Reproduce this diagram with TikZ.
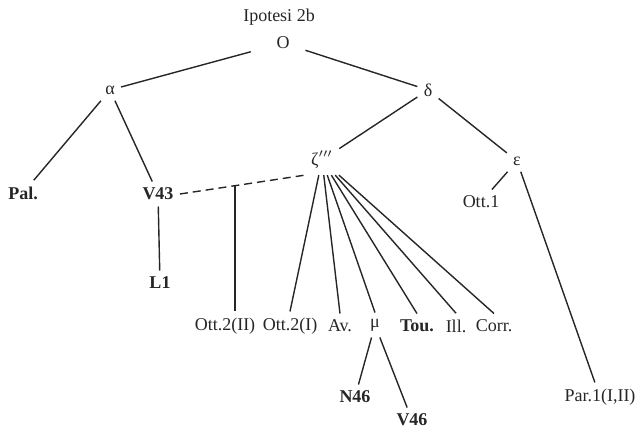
\documentclass[tikz,border=0pt]{standalone}
\usepackage{fontspec}
\setmainfont{Liberation Serif}
\usetikzlibrary{calc}
\newcommand\colorStemma{black!85}
\tikzset{
	siglum/.style={inner sep=3pt, font=\fontsize{9}{10}\selectfont, text=black!85},
	strong/.style={siglum, font=\fontsize{9}{10}\selectfont\bfseries},
	branch/.style={draw=\colorStemma, line width=0.7pt},
	contamination/.style={branch, dash pattern=on 4pt off 2.5pt}
}

\begin{document}
\begin{tikzpicture}[x=0.5pt, y=-0.5pt]
		\useasboundingbox (0,0) rectangle (638,430);

		% archetype and hyparchetypes
		\node[siglum] (title) at (279,17) {Ipotesi 2b};
		\node[siglum] (o) at (283,43) {O};
		\node[siglum] (alpha) at (110,90) {α};
		\node[siglum] (delta) at (428,90) {δ};
		\node[siglum] (zeta) at (322,160) {ζ$^{\prime\prime\prime}$};
		\node[siglum] (eps) at (517,161) {ε};

		% witnesses
		\node[strong] (pal) at (23,193) {Pal.};
		\node[strong] (vxliii) at (158,194) {V43};
		\node[strong] (lone) at (160,283) {L1};
		\node[siglum] (ottone) at (481,202) {Ott.1};
		\node[siglum] (ott2ii) at (225,326) {Ott.2(II)};
		\node[siglum] (ott2i) at (290,326) {Ott.2(I)};
		\node[siglum] (av) at (340,326) {Av.};
		\node[siglum] (mu) at (375,325) {μ};
		\node[strong] (tou) at (417,326) {Tou.};
		\node[siglum] (ill) at (456,326) {Ill.};
		\node[siglum] (corr) at (494,326) {Corr.};
		\node[strong] (nxlvi) at (355,397) {N46};
		\node[strong] (vxlvi) at (412,420) {V46};
		\node[siglum] (par) at (600,397) {Par.1(I,II)};

		\draw[branch, shorten <=10pt] (o) -- (alpha);
		\draw[branch, shorten <=5pt] (o) -- (delta);
		\draw[branch] (alpha) -- (pal);
		\draw[branch] (alpha) -- (vxliii);
		\draw[branch] (vxliii) -- (lone);
		\draw[branch] (delta) -- (zeta);
		\draw[branch] (delta) -- (eps);
		\draw[branch] (eps) -- (ottone);
		\draw[branch] (eps) -- (par);
		\draw[contamination] (vxliii.east) -- coordinate[pos=0.44] (join) (zeta.south west);
		\draw[branch] (join) -- (join |- ott2ii.north);
		\foreach \w in {ott2i,av,mu,tou,ill,corr}{
			\draw[branch] (zeta) -- (\w.north);
		}
		\draw[branch] (mu) -- (nxlvi);
		\draw[branch] (mu) -- (vxlvi);
	\end{tikzpicture}
\end{document}
